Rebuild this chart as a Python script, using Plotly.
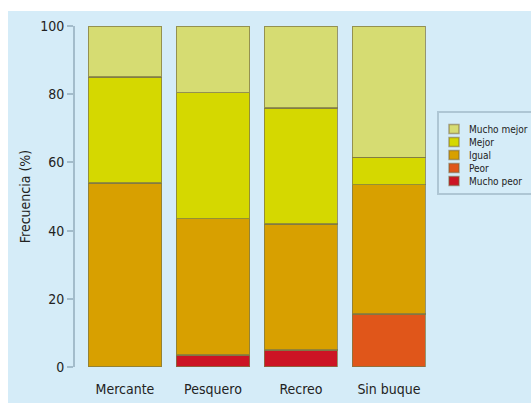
import plotly.graph_objects as go

categories = ["Mercante", "Pesquero", "Recreo", "Sin buque"]
series_names = ["Mucho peor", "Peor", "Igual", "Mejor", "Mucho mejor"]
mucho_peor = [0, 3.5, 5, 0]
peor = [0, 0, 0, 15.5]
igual = [54, 40, 37, 38]
mejor = [31, 37, 34, 8]
mucho_mejor = [15, 19.5, 24, 38.5]
colors = ["#cc1424", "#e0561a", "#d8a000", "#d5d800", "#d6dc72"]
y_ticks = [0, 20, 40, 60, 80, 100]

values = [mucho_peor, peor, igual, mejor, mucho_mejor]

FONT = "DejaVu Sans Condensed, Liberation Sans Narrow, Arial Narrow, sans-serif"
BG = "#d5ecf8"

# plot area in pixels
L, R, T, B = 75, 432, 26, 367
W, H = 531, 403

def px(x):
    return (x - L) / (R - L)

def py(y):
    return (B - y) / (B - T)

fig = go.Figure()
for name, vals, col in zip(series_names, values, colors):
    fig.add_trace(go.Bar(
        x=categories, y=vals, name=name,
        marker=dict(color=col, line=dict(color="rgba(125,120,70,0.75)", width=1.5)),
        width=0.83, showlegend=False,
    ))

shapes = [
    dict(type="rect", xref="paper", yref="paper", x0=px(8), x1=px(W + 5),
         y0=py(H + 5), y1=py(11), fillcolor=BG, line=dict(width=0), layer="below"),
    dict(type="rect", xref="paper", yref="paper", x0=px(438), x1=px(W + 5),
         y0=py(194), y1=py(112), fillcolor="rgba(0,0,0,0)",
         line=dict(color="#aec6d4", width=2)),
]
annotations = []
rows = [129, 142, 155, 168, 181]
for i, (name, col) in enumerate(zip(series_names[::-1], colors[::-1])):
    yc = rows[i]
    shapes.append(dict(type="rect", xref="paper", yref="paper",
                       x0=px(449), x1=px(459), y0=py(yc + 4.5), y1=py(yc - 4.5),
                       fillcolor=col, line=dict(color="rgba(120,100,60,0.55)", width=1.5)))
    annotations.append(dict(xref="paper", yref="paper", x=px(467), y=py(yc),
                            text=name, showarrow=False, xanchor="left", yanchor="middle",
                            font=dict(family=FONT, size=10, color="#222")))

fig.update_layout(
    width=W, height=H,
    margin=dict(l=L, r=W - R, t=T, b=H - B, pad=0, autoexpand=False),
    barmode="stack",
    paper_bgcolor="white",
    plot_bgcolor="rgba(0,0,0,0)",
    font=dict(family=FONT, size=14, color="#222"),
    shapes=shapes,
    annotations=annotations,
    xaxis=dict(range=[-0.568, 3.489], showgrid=False, zeroline=False, showline=False,
               automargin=False,
               ticks="outside", ticklen=9, tickcolor="rgba(0,0,0,0)",
               tickfont=dict(family=FONT, size=14, color="#222")),
    yaxis=dict(range=[0, 100], tickvals=y_ticks, showgrid=False, zeroline=False,
               automargin=False,
               showline=True, linecolor="#a3bccb", linewidth=2,
               ticks="outside", ticklen=6, tickcolor="#a3bccb", tickwidth=2,
               tickfont=dict(family=FONT, size=14, color="#222"),
               title=dict(text="Frecuencia (%)", standoff=6,
                          font=dict(family=FONT, size=14, color="#222"))),
)

fig.write_html("out.html")
